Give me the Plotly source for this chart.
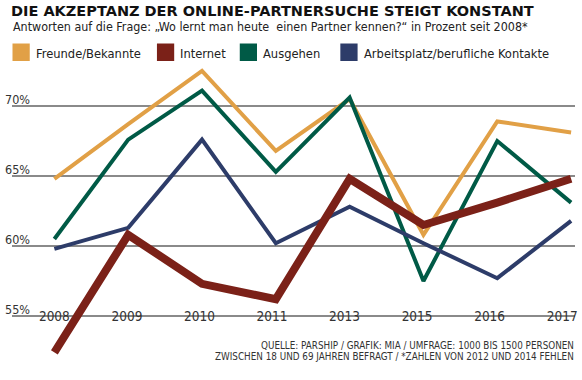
import plotly.graph_objects as go

years = ["2008", "2009", "2010", "2011", "2013", "2015", "2016", "2017"]
freunde = [64.8, 68.7, 72.5, 66.8, 70.5, 60.8, 68.9, 68.1]
internet = [52.4, 60.8, 57.3, 56.2, 64.8, 61.5, 63.1, 64.8]
ausgehen = [60.5, 67.6, 71.1, 65.3, 70.6, 57.5, 67.5, 63.1]
arbeit = [59.8, 61.3, 67.6, 60.2, 62.8, 60.2, 57.7, 61.8]
y_ticks = [55, 60, 65, 70]
y_tick_text = ["55%", "60%", "65%", "70%"]

names = ["Freunde/Bekannte", "Internet", "Ausgehen", "Arbeitsplatz/berufliche Kontakte"]
colors = ["#E1A046", "#7B2118", "#005A46", "#2D3C69"]

FONT = "DejaVu Sans Condensed, sans-serif"

fig = go.Figure()
series = [(freunde, 0, 4), (ausgehen, 2, 4), (arbeit, 3, 4), (internet, 1, 8)]
for vals, idx, w in series:
    fig.add_trace(go.Scatter(x=years, y=vals, mode="lines", name=names[idx],
                             line=dict(color=colors[idx], width=w),
                             showlegend=False))

# invisible carrier trace for the label axis
fig.add_trace(go.Scatter(x=years, y=[None] * len(years), mode="lines",
                         xaxis="x2", showlegend=False, hoverinfo="skip"))

ymin, ymax = 51.0, 73.5
T = 57       # top margin in px
H = 315      # plot height in px
W = 571      # plot width in px
axis_pos = (55 - ymin) / (ymax - ymin)
fig.update_layout(
    width=582, height=380,
    margin=dict(l=5, r=6, t=T, b=380 - T - H),
    paper_bgcolor="white", plot_bgcolor="white",
    font=dict(family=FONT, color="#333333"),
    xaxis=dict(type="category", range=[-0.574, 7.053], showgrid=False,
               showline=False, zeroline=False, ticks="", showticklabels=False),
    xaxis2=dict(type="category", range=[-0.584, 7.177], showgrid=False,
                showline=False, zeroline=False, ticks="",
                overlaying="x", anchor="free", position=axis_pos, side="bottom",
                ticklabelstandoff=-10,
                tickfont=dict(size=13.5, color="#333333")),
    yaxis=dict(range=[ymin, ymax], tickvals=y_ticks, ticktext=y_tick_text,
               showgrid=True, gridcolor="#8a8a8a", gridwidth=1.5,
               zeroline=False, showline=False, ticks="",
               ticklabelposition="inside top", ticklabelstandoff=-10,
               ticklabelshift=2,
               tickfont=dict(size=12.5, color="#333333")),
)


def py(pix):
    """paper y for a pixel row"""
    return 1 + (T - pix) / H


def px(pix):
    return (pix - 5) / W


# title and subtitle
fig.add_annotation(text="<b>DIE AKZEPTANZ DER ONLINE-PARTNERSUCHE STEIGT KONSTANT</b>",
                   xref="paper", yref="paper", x=px(2), y=py(11), xanchor="left", yanchor="middle",
                   showarrow=False,
                   font=dict(family="DejaVu Sans, sans-serif", size=14.5, color="#111111"))
fig.add_annotation(text="Antworten auf die Frage: „Wo lernt man heute  einen Partner kennen?“ in Prozent seit 2008*",
                   xref="paper", yref="paper", x=px(4), y=py(27), xanchor="left", yanchor="middle",
                   showarrow=False,
                   font=dict(family=FONT, size=12.4, color="#222222"))

# manual legend
leg_x = [5.5, 152, 236, 338]
for i, lx in enumerate(leg_x):
    fig.add_shape(type="rect", xref="paper", yref="paper",
                  x0=px(lx), x1=px(lx + 17.5),
                  y0=py(61), y1=py(43.5),
                  fillcolor=colors[i], line=dict(width=0))
    fig.add_annotation(text=names[i], xref="paper", yref="paper",
                       x=px(lx + 21.5), y=py(53),
                       xanchor="left", yanchor="middle", showarrow=False,
                       font=dict(family=FONT, size=12.8, color="#222222"))

# footer
footer = ["QUELLE: PARSHIP / GRAFIK: MIA / UMFRAGE: 1000 BIS 1500 PERSONEN",
          "ZWISCHEN 18 UND 69 JAHREN BEFRAGT / *ZAHLEN VON 2012 UND 2014 FEHLEN"]
for line, yy in zip(footer, [345, 356]):
    fig.add_annotation(text=line, xref="paper", yref="paper", x=px(577), y=py(yy),
                       xanchor="right", yanchor="middle", showarrow=False,
                       font=dict(family=FONT, size=9.8, color="#333333"))

fig.write_html("out.html", config={"displayModeBar": False},
               post_script="document.body.style.margin='0';document.body.style.overflow='hidden';")
